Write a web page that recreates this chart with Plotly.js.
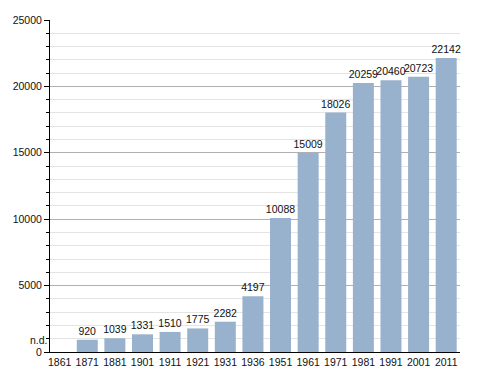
<!DOCTYPE html>
<html>
<head>
<meta charset="utf-8">
<script src="https://cdn.plot.ly/plotly-3.0.1.min.js"></script>
<style>
html,body{margin:0;padding:0;background:#fff;}
#chart{width:488px;height:373px;}
</style>
</head>
<body>
<div id="chart"></div>
<script>
const years = ["1861","1871","1881","1901","1911","1921","1931","1936","1951","1961","1971","1981","1991","2001","2011"];
const population = [null, 920, 1039, 1331, 1510, 1775, 2282, 4197, 10088, 15009, 18026, 20259, 20460, 20723, 22142];
const missingLabel = "n.d.";

const labels = population.map(v => v === null ? "" : String(v));
const FONT = "Liberation Sans, Arial, sans-serif";

const trace = {
  type: "bar",
  x: years,
  y: population.map(v => v === null ? 0 : v),
  text: labels,
  textposition: "outside",
  constraintext: "none",
  cliponaxis: false,
  textfont: {family: FONT, size: 10.5, color: "#111"},
  marker: {color: "#98b1cd"}
};

const xMin = -0.35;
const annotations = [];
population.forEach((v, i) => {
  if (v === null) {
    annotations.push({
      x: xMin, y: 0, xref: "x", yref: "y",
      text: missingLabel, showarrow: false,
      xanchor: "right", yanchor: "bottom",
      xshift: 0, yshift: 4,
      font: {family: FONT, size: 10.5, color: "#111"}
    });
  }
});

const layout = {
  width: 488, height: 373,
  margin: {l: 50, r: 28, t: 20, b: 21},
  paper_bgcolor: "#fff",
  plot_bgcolor: "#fff",
  showlegend: false,
  bargap: 0.24,
  font: {family: FONT, size: 10, color: "#222"},
  xaxis: {
    type: "category",
    range: [xMin, years.length - 0.5],
    showline: true, linecolor: "#000", linewidth: 1,
    ticks: "", showgrid: false,
    tickfont: {size: 10.5, color: "#111"}
  },
  yaxis: {
    range: [0, 25000],
    dtick: 5000,
    tickformat: "d",
    showline: true, linecolor: "#000", linewidth: 1,
    ticks: "outside", ticklen: 5, tickcolor: "#000",
    showgrid: true, gridcolor: "#b0b0b0", gridwidth: 1,
    zeroline: false,
    tickfont: {size: 10.5, color: "#111"},
    minor: {dtick: 1000, ticks: "outside", ticklen: 3, tickcolor: "#000", showgrid: true, gridcolor: "#e4e4e4"}
  },
  annotations: annotations
};

Plotly.newPlot("chart", [trace], layout, {displayModeBar: false, staticPlot: true});
</script>
</body>
</html>
